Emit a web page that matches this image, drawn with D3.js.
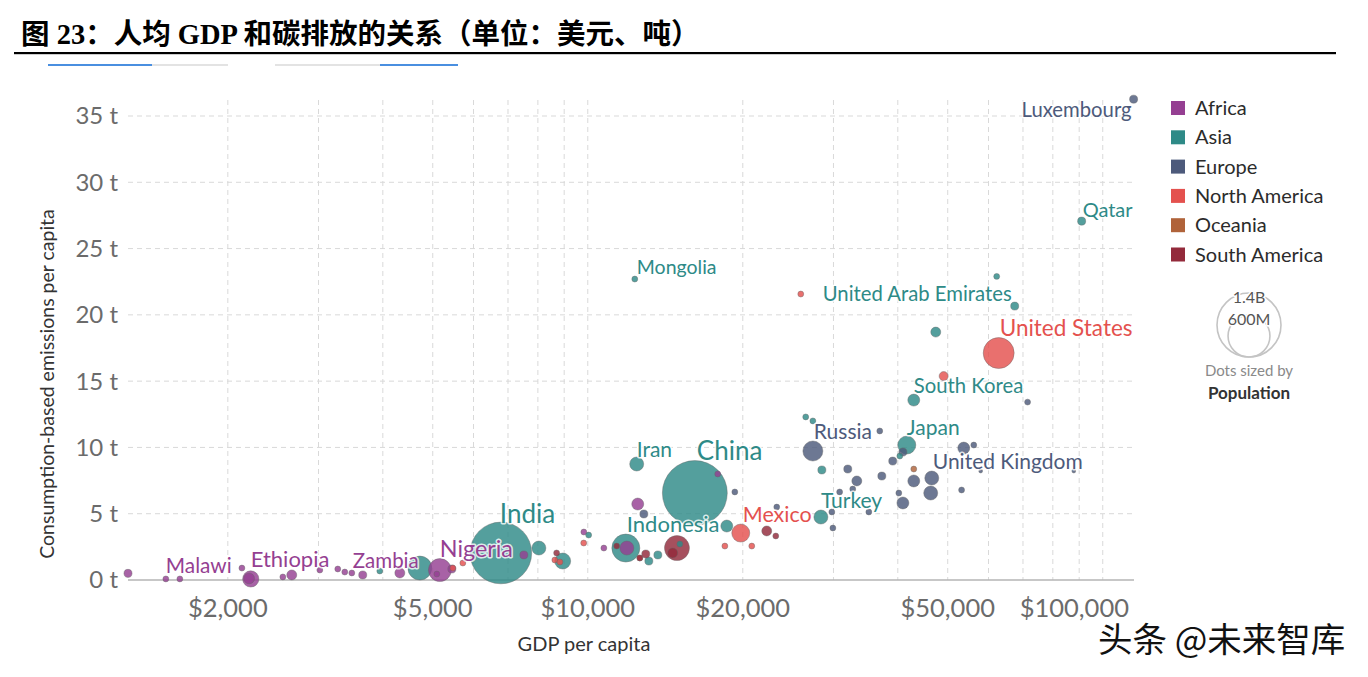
<!DOCTYPE html>
<html>
<head>
<meta charset="utf-8">
<script src="https://cdn.jsdelivr.net/npm/d3@7"></script>
<style>
  html, body { margin: 0; padding: 0; background: #fff; }
  svg { display: block; }
</style>
</head>
<body>
<svg id="chart" width="1368" height="677"></svg>
<script>
// ---------------- data ----------------
const titleText = "图 23：人均 GDP 和碳排放的关系（单位：美元、吨）";
const watermark = "头条 @未来智库";
const regions = ["Africa", "Asia", "Europe", "North America", "Oceania", "South America"];
const regionColors = ["#953f92", "#2e8a87", "#4d5a7b", "#e4514e", "#b0633a", "#932a3b"];

const countryNames = [
  "Burundi","Malawi","Niger","Madagascar","Ethiopia","Uganda","Rwanda","Tanzania","Benin","Senegal","Guinea","Zambia","Kenya","Cameroon","Nigeria","Ghana","Côte d'Ivoire","Morocco","Tunisia","Algeria","South Africa","Egypt","Libya",
  "Kyrgyzstan","Pakistan","India","Philippines","Vietnam","Jordan","Indonesia","Iran","Sri Lanka","Uzbekistan","Lebanon","China","Thailand","Turkey","Kazakhstan","Oman","Bahrain","Japan","Israel","South Korea","Saudi Arabia","Mongolia","Kuwait","United Arab Emirates","Qatar",
  "Honduras","Nicaragua","Jamaica","Guatemala","El Salvador","Cuba","Mexico","Costa Rica","Panama","Trinidad and Tobago","United States","Canada",
  "Russia","Belarus","Ukraine","Serbia","Romania","Croatia","Portugal","Slovakia","Poland","Hungary","Latvia","Czechia","Estonia","Slovenia","Finland","France","United Kingdom","Germany","Italy","Malta","Sweden","Netherlands","Belgium","Austria","Norway","Switzerland","Luxembourg",
  "New Zealand",
  "Brazil","Colombia","Peru","Ecuador","Paraguay","Bolivia","Argentina","Uruguay"
];
const regionOf = [
  "Africa","Africa","Africa","Africa","Africa","Africa","Africa","Africa","Africa","Africa","Africa","Africa","Africa","Africa","Africa","Africa","Africa","Africa","Africa","Africa","Africa","Africa","Africa",
  "Asia","Asia","Asia","Asia","Asia","Asia","Asia","Asia","Asia","Asia","Asia","Asia","Asia","Asia","Asia","Asia","Asia","Asia","Asia","Asia","Asia","Asia","Asia","Asia","Asia",
  "North America","North America","North America","North America","North America","North America","North America","North America","North America","North America","North America","North America",
  "Europe","Europe","Europe","Europe","Europe","Europe","Europe","Europe","Europe","Europe","Europe","Europe","Europe","Europe","Europe","Europe","Europe","Europe","Europe","Europe","Europe","Europe","Europe","Europe","Europe","Europe","Europe",
  "Oceania",
  "South America","South America","South America","South America","South America","South America","South America","South America"
];
const gdpPerCapita = [
  1280,1516,1614,2130,2216,2200,2558,2662,3018,3270,3374,3482,3656,4316,5162,5092,5446,7514,9826,10746,12504,11910,17880,
  3946,4720,6780,8036,8940,10040,11856,12446,13140,13680,15094,16140,18620,28360,28480,26500,27360,41640,40360,42960,47400,12340,62240,67460,91000,
  5470,5720,9820,8630,8830,12620,19820,18460,20820,25920,62800,49100,
  27360,19300,12850,23280,29920,29780,35140,31980,33300,30840,32700,37240,36900,39100,40920,42960,46560,46340,40920,40180,53200,53720,56180,57940,71460,87860,114800,
  42960,
  14900,14620,12960,12620,11380,8700,22260,23180
];
const emissionsPerCapita = [
  0.5,0.08,0.08,0.9,0.08,0.12,0.23,0.38,0.75,0.83,0.6,0.53,0.38,0.53,0.75,0.45,0.83,1.89,3.62,2.41,5.73,2.41,8.0,
  0.68,0.9,2.04,2.41,1.43,3.39,2.41,8.75,1.43,1.89,2.71,6.56,4.07,4.75,8.3,12.3,12.0,10.18,9.35,13.57,18.7,22.7,22.9,20.66,27.07,
  0.9,1.28,2.79,1.51,1.36,1.66,3.54,2.56,2.56,21.57,17.12,15.38,
  9.73,6.64,4.98,5.5,3.92,5.13,5.13,8.37,7.47,6.64,6.86,7.84,11.24,8.97,9.65,7.47,7.69,6.56,5.81,6.56,6.79,9.95,10.18,8.22,13.42,8.22,36.27,
  8.37,
  2.41,2.04,1.96,1.66,2.56,2.04,3.7,3.32
];
const population = [ // millions
  22,12,12,12,90,40,12,34,12,12,12,12,22,34,180,12,22,22,12,12,49,67,12,
  12,197,1300,67,87,12,268,67,22,22,12,1440,49,67,22,12,12,111,12,49,34,12,12,22,22,
  12,12,12,12,12,12,111,12,12,12,328,28,
  137,12,22,12,12,12,12,22,34,12,12,22,12,22,22,49,67,67,49,12,12,49,12,5,12,5,22,
  12,
  213,34,22,12,12,12,34,12
];

const yTicks = [0, 5, 10, 15, 20, 25, 30, 35];
const yTickLabels = ["0 t","5 t","10 t","15 t","20 t","25 t","30 t","35 t"];
const xTicks = [2000, 5000, 10000, 20000, 50000, 100000];
const xTickLabels = ["$2,000","$5,000","$10,000","$20,000","$50,000","$100,000"];
const xGrid = [2000,3000,4000,5000,6000,7000,8000,9000,10000,20000,30000,40000,50000,60000,70000,80000,90000,100000];

const sizeLegendValues = [1400, 600];
const sizeLegendLabels = ["1.4B", "600M"];

// label placement: name, font size, dx, dy, anchor (offsets relative to the dot)
const labelSpecs = [
  ["Luxembourg", 20.3, -2, 18, "end"],
  ["Qatar", 20, 1, -4, "start"],
  ["Mongolia", 19.5, 2, -5, "start"],
  ["United Arab Emirates", 20.3, -3, -5, "end"],
  ["United States", 22.5, 1, -17, "start"],
  ["South Korea", 20.3, 0, -7, "start"],
  ["Japan", 21, 0, -10, "start"],
  ["Russia", 21, 1, -12, "start"],
  ["United Kingdom", 21, 1, -9, "start"],
  ["Turkey", 21, 0, -9, "start"],
  ["Mexico", 21.5, 2, -11, "start"],
  ["Indonesia", 22, 1, -16, "start"],
  ["China", 26, 2, -33, "start"],
  ["Iran", 21, 0, -7, "start"],
  ["India", 26, -1, -30, "start"],
  ["Nigeria", 23.3, 0, -13, "start"],
  ["Zambia", 20.5, 1, -5, "start"],
  ["Ethiopia", 22, 0, -12, "start"],
  ["Malawi", 20.8, 0, -6, "start"]
];

// ---------------- drawing ----------------
const svg = d3.select("#chart");
const FONT = "Lato, 'Noto Sans', sans-serif";

const data = countryNames.map((n, i) => ({
  name: n, region: regionOf[i], gdp: gdpPerCapita[i], em: emissionsPerCapita[i], pop: population[i]
}));

const x = d3.scaleLog().domain([1280, 115000]).range([128, 1134]);
const y = d3.scaleLinear().domain([0, 35]).range([580, 116]);
const r = d3.scaleSqrt().domain([0, 1400]).range([0, 32]);
const color = d3.scaleOrdinal().domain(regions).range(regionColors);

// title
svg.append("text")
  .attr("x", 21).attr("y", 44)
  .attr("font-family", "'Liberation Serif', 'Noto Sans CJK SC', serif")
  .attr("font-weight", "bold").attr("font-size", 28.5).attr("fill", "#000")
  .text(titleText);
svg.append("rect").attr("x", 14).attr("y", 52).attr("width", 1322).attr("height", 2.2).attr("fill", "#000");

// faint tab remnants
const tabs = [[48, 104, "#4a8fe0"], [152, 76, "#e3e3e3"], [275, 105, "#e3e3e3"], [380, 78, "#4a8fe0"]];
svg.selectAll("rect.tab").data(tabs).join("rect").attr("class", "tab")
  .attr("x", d => d[0]).attr("y", 64).attr("width", d => d[1]).attr("height", 2).attr("fill", d => d[2]);

// grid
const [x0, x1] = x.range();
svg.append("g").selectAll("line").data(yTicks.filter(d => d > 0)).join("line")
  .attr("x1", x0).attr("x2", x1).attr("y1", d => y(d)).attr("y2", d => y(d))
  .attr("stroke", "#d9d9d9").attr("stroke-width", 1).attr("stroke-dasharray", "5,4");
svg.append("g").selectAll("line").data(xGrid).join("line")
  .attr("x1", d => x(d)).attr("x2", d => x(d)).attr("y1", 100).attr("y2", 580)
  .attr("stroke", "#d9d9d9").attr("stroke-width", 1).attr("stroke-dasharray", "5,4");
svg.append("line").attr("x1", x0).attr("x2", x1).attr("y1", y(0)).attr("y2", y(0))
  .attr("stroke", "#b5b5b5").attr("stroke-width", 1.5);

// y axis labels
svg.append("g").selectAll("text").data(yTicks).join("text")
  .attr("x", 118).attr("y", d => y(d)).attr("dy", "0.35em")
  .attr("text-anchor", "end").attr("font-family", FONT).attr("font-size", 24).attr("fill", "#6b6b6b")
  .text((d, i) => yTickLabels[i]);

// x axis labels
const xl = svg.append("g").selectAll("text").data(xTicks).join("text")
  .attr("x", d => x(d)).attr("y", 617)
  .attr("text-anchor", "middle").attr("font-family", FONT).attr("font-size", 25.5).attr("fill", "#6b6b6b")
  .text((d, i) => xTickLabels[i]);
xl.each(function(d) {
  const w = this.getComputedTextLength();
  const cx = Math.min(x(d), x1 - 5 - w / 2);
  d3.select(this).attr("x", cx);
});

// axis titles
svg.append("text").attr("transform", "translate(54,384) rotate(-90)")
  .attr("text-anchor", "middle").attr("font-family", FONT).attr("font-size", 19.5).attr("fill", "#333")
  .text("Consumption-based emissions per capita");
svg.append("text").attr("x", 584).attr("y", 651)
  .attr("text-anchor", "middle").attr("font-family", FONT).attr("font-size", 20).attr("fill", "#333")
  .text("GDP per capita");

// bubbles
const sorted = data.slice().sort((a, b) => b.pop - a.pop);
svg.append("g").selectAll("circle").data(sorted).join("circle")
  .attr("cx", d => x(d.gdp)).attr("cy", d => y(d.em)).attr("r", d => r(d.pop))
  .attr("fill", d => color(d.region)).attr("fill-opacity", 0.82)
  .attr("stroke", "#666").attr("stroke-opacity", 0.6).attr("stroke-width", 0.7);

// labels
const byName = new Map(data.map(d => [d.name, d]));
svg.append("g").selectAll("text").data(labelSpecs).join("text")
  .attr("x", s => x(byName.get(s[0]).gdp) + s[2])
  .attr("y", s => y(byName.get(s[0]).em) + s[3])
  .attr("text-anchor", s => s[4])
  .attr("font-family", FONT).attr("font-size", s => s[1])
  .attr("fill", s => color(byName.get(s[0]).region))
  .attr("stroke", "#fff").attr("stroke-width", 3).attr("stroke-opacity", 0.8)
  .attr("paint-order", "stroke").attr("stroke-linejoin", "round")
  .text(s => s[0]);

// legend
const lg = svg.append("g");
regions.forEach((reg, i) => {
  const cy = 108 + i * 29.3;
  lg.append("rect").attr("x", 1171).attr("y", cy - 7).attr("width", 14).attr("height", 14).attr("fill", regionColors[i]);
  lg.append("text").attr("x", 1195).attr("y", cy).attr("dy", "0.35em")
    .attr("font-family", FONT).attr("font-size", 20).attr("fill", "#2b2b2b").text(reg);
});

// size legend
const sl = svg.append("g");
const baseY = 357, cxL = 1249;
sizeLegendValues.forEach((v, i) => {
  sl.append("circle").attr("cx", cxL).attr("cy", baseY - r(v)).attr("r", r(v))
    .attr("fill", "none").attr("stroke", "#c4c4c4").attr("stroke-width", 1.6);
});
sizeLegendValues.forEach((v, i) => {
  sl.append("text").attr("x", cxL).attr("y", baseY - 2 * r(v) + 10)
    .attr("text-anchor", "middle").attr("font-family", FONT).attr("font-size", 16).attr("fill", "#555")
    .attr("stroke", "#fff").attr("stroke-width", 3).attr("paint-order", "stroke")
    .text(sizeLegendLabels[i]);
});
sl.append("text").attr("x", cxL).attr("y", 376).attr("text-anchor", "middle")
  .attr("font-family", FONT).attr("font-size", 15).attr("fill", "#8a8a8a").text("Dots sized by");
sl.append("text").attr("x", cxL).attr("y", 399).attr("text-anchor", "middle")
  .attr("font-family", FONT).attr("font-size", 17).attr("font-weight", "bold").attr("fill", "#333").text("Population");

// watermark
svg.append("text").attr("x", 1098).attr("y", 652)
  .attr("font-family", "'Noto Sans CJK SC', sans-serif").attr("font-size", 34.5).attr("fill", "#111")
  .attr("stroke", "#fff").attr("stroke-width", 1.5).attr("paint-order", "stroke")
  .text(watermark);
</script>
</body>
</html>
